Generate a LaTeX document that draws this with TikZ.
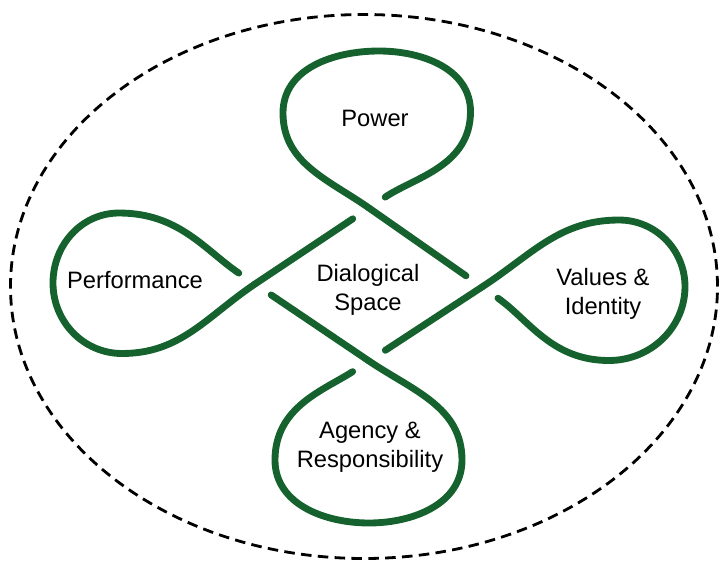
\documentclass[tikz,border=0pt]{standalone}
\usepackage{fontspec}
\setmainfont{Liberation Sans}
\definecolor{dlgreen}{RGB}{22,98,46}

\begin{document}
\begin{tikzpicture}[
    strand/.style={draw=dlgreen, line width=3.9pt, line cap=round},
    under/.style={shorten <=0.39cm},
    into/.style={shorten >=0.39cm},
    loopname/.style={font=\fontsize{13.5}{16.5}\selectfont, align=center, text=black}
  ]
    \useasboundingbox (-7.38,-5.54) rectangle (7.02,5.68);
    % dashed boundary
    \draw[dash pattern=on 6pt off 3.6pt, line width=1.6pt]
      (-0.1,-0.05) ellipse [x radius=7.07, y radius=5.44];
    % crossings round the centre
    \coordinate (ct) at (0,1.52);
    \coordinate (cr) at (2.26,-0.06);
    \coordinate (cb) at (0,-1.54);
    \coordinate (cl) at (-2.28,0);
    % straight strands (over at the start, under at the end)
    \draw[strand, into] (ct) -- (cr);
    \draw[strand, into] (cr) -- (cb);
    \draw[strand, into] (cb) -- (cl);
    \draw[strand, into] (cl) -- (ct);
    % loops (leave under, come back over)
    \draw[strand, under] (ct) to[out=34,in=-90] (2.03,3.45) to[out=90,in=0] (0.2,4.66)
      to[out=180,in=90] (-1.72,3.42) to[out=-90,in=145] (ct);
    \draw[strand, under] (cr) to[out=-35,in=180] (4.8,-1.53) to[out=0,in=-90] (6.32,-0.05)
      to[out=90,in=0] (5.0,1.28) to[out=180,in=33] (cr);
    \draw[strand, under] (cb) to[out=213,in=90] (-1.88,-3.52) to[out=-90,in=180] (0,-4.78)
      to[out=0,in=-90] (1.86,-3.52) to[out=90,in=-34] (cb);
    \draw[strand, under] (cl) to[out=146,in=0] (-5.0,1.42) to[out=180,in=90] (-6.32,0.02)
      to[out=-90,in=180] (-4.94,-1.39) to[out=0,in=214] (cl);
    % names
    \node[loopname] (power) at (0.12,3.32) {Power};
    \node[loopname] (perf) at (-4.68,0.08) {Performance};
    \node[loopname] (space) at (-0.02,-0.12) {Dialogical\\Space};
    \node[loopname] (values) at (4.68,-0.2) {Values \&\\Identity};
    \node[loopname] (agency) at (0.02,-3.26) {Agency \&\\Responsibility};
\end{tikzpicture}
\end{document}
